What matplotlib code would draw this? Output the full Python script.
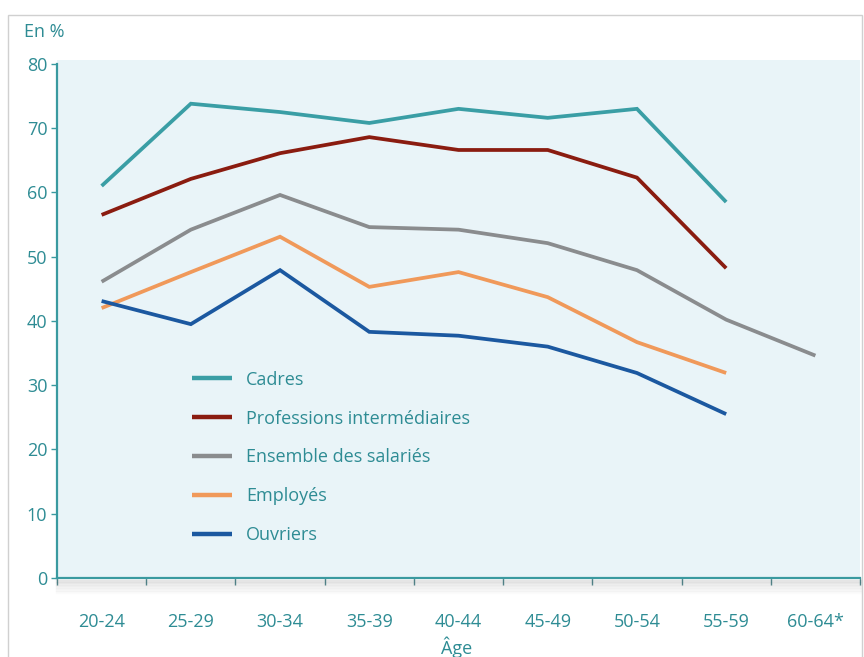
import matplotlib
matplotlib.use("Agg")
import matplotlib.pyplot as plt
from matplotlib.patches import Rectangle

plt.rcParams["font.family"] = ["Open Sans", "DejaVu Sans"]

# --- data ---
ages = ["20-24", "25-29", "30-34", "35-39", "40-44", "45-49", "50-54", "55-59", "60-64*"]

cadres        = [61.0, 73.8, 72.5, 70.8, 73.0, 71.6, 73.0, 58.5]
prof_inter    = [56.5, 62.1, 66.1, 68.6, 66.6, 66.6, 62.3, 48.2]
ensemble      = [46.1, 54.2, 59.6, 54.6, 54.2, 52.1, 47.9, 40.2, 34.6]
employes      = [42.0, 47.6, 53.1, 45.3, 47.6, 43.7, 36.7, 31.9]
ouvriers      = [43.1, 39.5, 47.9, 38.3, 37.7, 36.0, 31.9, 25.5]

series = [
    ("Cadres", cadres, "#3a9ea5"),
    ("Professions intermédiaires", prof_inter, "#8a1c10"),
    ("Ensemble des salariés", ensemble, "#8a8c8e"),
    ("Employés", employes, "#f0995a"),
    ("Ouvriers", ouvriers, "#1b58a0"),
]

TEXT = "#2e8c94"
SPINE = "#3a9aa0"
BG = "#e9f4f8"
FS = 13

W, H = 864, 657
fig = plt.figure(figsize=(W / 100, H / 100), dpi=100)
fig.patch.set_facecolor("white")

# outer frame of the original figure box
fig.patches.append(Rectangle((8 / W, -0.01), (862 - 8) / W, 1 - 15 / H + 0.01,
                             transform=fig.transFigure, fill=False,
                             edgecolor="#d0d0d0", lw=1.0))

ax = fig.add_axes([57 / W, 1 - 578 / H, (860 - 57) / W, (578 - 60) / H])
ax.set_facecolor(BG)

x = list(range(len(ages)))
for name, vals, color in series:
    ax.plot(x[:len(vals)], vals, color=color, lw=2.7, label=name,
            solid_joinstyle="miter", solid_capstyle="butt")

ax.set_xlim(-0.5, len(ages) - 0.5)
ax.set_ylim(0, 80.6)

for s in ["top", "right"]:
    ax.spines[s].set_visible(False)
for s in ["left", "bottom"]:
    ax.spines[s].set_color(SPINE)
    ax.spines[s].set_linewidth(1.6)
ax.spines["left"].set_bounds(0, 80)

ax.set_yticks(range(0, 81, 10))
ax.tick_params(axis="y", colors=SPINE, length=4, width=1, pad=3,
               labelsize=FS, labelcolor=TEXT)

ax.set_xticks(x)
ax.set_xticklabels(ages)
ax.set_xticks([i - 0.5 for i in range(len(ages) + 1)], minor=True)
ax.tick_params(axis="x", which="major", length=0, pad=25,
               labelsize=FS, labelcolor=TEXT)
ax.tick_params(axis="x", which="minor", length=5, width=1, color="#5a8f95")

# soft shadow under the bottom axis
for i, a in enumerate([0.10, 0.07, 0.05, 0.03, 0.015]):
    ax.axhline(-0.45 * (i + 1), color="black", alpha=a, lw=2.5, clip_on=False)

leg = ax.legend(loc="upper left", bbox_to_anchor=(0.168, 0.40), frameon=False,
                fontsize=FS, handlelength=2.2, handletextpad=0.8,
                labelspacing=1.15, borderpad=0, borderaxespad=0)
for t in leg.get_texts():
    t.set_color(TEXT)
for h in leg.get_lines():
    h.set_linewidth(3.2)

fig.text(24 / W, 1 - 32 / H, "En %", color=TEXT, fontsize=FS, va="center", ha="left")
fig.text(457 / W, 1 - 647 / H, "Âge", color=TEXT, fontsize=FS, va="center", ha="center")

fig.savefig("out.png", dpi=100)
